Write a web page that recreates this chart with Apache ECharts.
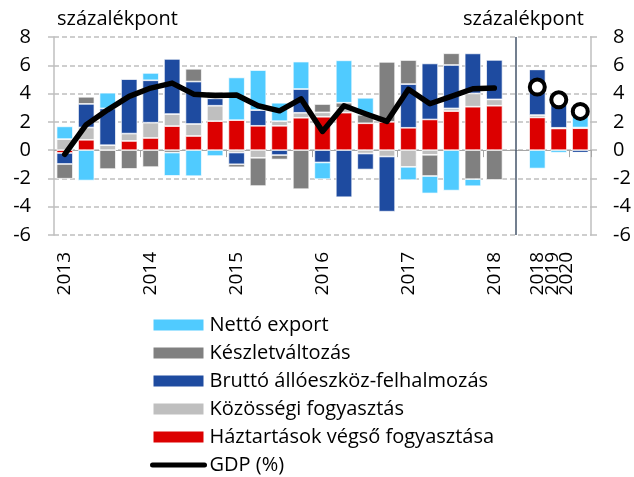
<!DOCTYPE html>
<html>
<head>
<meta charset="utf-8">
<script src="https://cdn.jsdelivr.net/npm/echarts@6/dist/echarts.min.js"></script>
<style>
html,body{margin:0;padding:0;background:#fff;}
#chart{width:634px;height:477px;}
</style>
</head>
<body>
<div id="chart"></div>
<script>
// Categories: 2013Q1..2018Q1 quarterly, a separator slot, then annual 2018-2020
const categories = ['2013Q1','2013Q2','2013Q3','2013Q4','2014Q1','2014Q2','2014Q3','2014Q4',
  '2015Q1','2015Q2','2015Q3','2015Q4','2016Q1','2016Q2','2016Q3','2016Q4',
  '2017Q1','2017Q2','2017Q3','2017Q4','2018Q1','sep','2018','2019','2020'];
const tickLabels = ['2013','','','','2014','','','','2015','','','','2016','','','',
  '2017','','','','2018','','2018','2019','2020'];

const haztartasok = [-0.2,0.73,0.0,0.65,0.86,1.7,1.0,2.05,2.12,1.72,1.72,2.29,2.36,2.65,1.9,2.0,1.58,2.17,2.76,3.07,3.14,null,2.31,1.53,1.55];
const kozossegi   = [0.78,0.87,0.35,0.52,1.08,0.85,0.85,1.09,-0.17,-0.54,0.33,0.35,0.31,0.35,-0.24,-0.45,-1.18,-0.33,0.19,0.94,0.45,null,0.17,0.05,0.05];
const brutto      = [-0.78,1.67,2.6,3.85,3.0,3.9,3.0,0.52,-0.83,1.11,-0.35,1.68,-0.87,-3.33,-1.13,-3.9,3.09,3.96,3.07,2.83,2.79,null,3.23,2.2,-0.18];
const keszlet     = [-1.04,0.5,-1.34,-1.34,-1.2,-0.17,0.9,0.47,-0.21,-2.0,-0.31,-2.76,0.59,0.35,0.6,4.25,1.7,-1.5,0.83,-2.05,-2.12,null,0,0,0];
const nettoExport = [0.9,-2.15,1.11,0.0,0.52,-1.65,-1.84,-0.42,3.02,2.83,1.3,1.94,-1.18,3.0,1.2,0,-0.94,-1.23,-2.86,-0.5,0,null,-1.3,-0.18,1.3];
const gdpQuarterly = [-0.3,1.8,2.85,3.8,4.39,4.74,3.96,3.87,3.9,3.14,2.78,3.63,1.32,3.14,2.57,2.03,4.3,3.28,3.8,4.34,4.39,null,null,null,null];
const gdpAnnual    = [null,null,null,null,null,null,null,null,null,null,null,null,null,null,null,null,null,null,null,null,null,null,4.46,3.56,2.74];
const yTicks = {min:-6, max:8, interval:2};

const FONT = 'Open Sans';
const C = {lightblue:'#50CBFF', gray:'#808080', darkblue:'#1E4BA0', lightgray:'#BFBFBF', red:'#DC0000'};

function bar(name, data, color){
  return {name, type:'bar', stack:'total', data, xAxisIndex:0, yAxisIndex:0,
    barWidth:'76%', itemStyle:{color, borderColor:'#ffffff', borderWidth:0.7},
    emphasis:{disabled:true}, animation:false};
}

const chart = echarts.init(document.getElementById('chart'), null, {renderer:'canvas'});
const sHaz = bar('Háztartások végső fogyasztása', haztartasok, C.red);
sHaz.markLine = {symbol:'none', silent:true, animation:false, label:{show:false},
  lineStyle:{color:'#44546A', width:1.5, type:'solid'}, data:[{xAxis:'sep'}]};

const option = {
  backgroundColor:'#ffffff',
  animation:false,
  textStyle:{fontFamily:FONT},
  title:[
    {text:'százalékpont', left:52, top:4, textStyle:{fontFamily:FONT, fontSize:20, fontWeight:'normal', color:'#000'}},
    {text:'százalékpont', right:45, top:4, textStyle:{fontFamily:FONT, fontSize:20, fontWeight:'normal', color:'#000'}}
  ],
  grid:{left:54, right:43, top:37, bottom:242, containLabel:false},
  legend:{
    orient:'vertical', left:150, top:315, padding:0, height:170, itemWidth:52, itemHeight:13, itemGap:8,
    textStyle:{fontFamily:FONT, fontSize:20, color:'#000', lineHeight:20},
    data:[
      {name:'Nettó export', icon:'rect'},
      {name:'Készletváltozás', icon:'rect'},
      {name:'Bruttó állóeszköz-felhalmozás', icon:'rect'},
      {name:'Közösségi fogyasztás', icon:'rect'},
      {name:'Háztartások végső fogyasztása', icon:'rect'},
      {name:'GDP (%)', itemStyle:{opacity:0}, lineStyle:{width:5, color:'#000', cap:'round'}}
    ],
    selectedMode:false
  },
  xAxis:[
    {type:'category', data:categories, position:'bottom',
     axisLine:{show:false, onZero:false}, axisTick:{show:false},
     axisLabel:{interval:0, rotate:90, margin:17, color:'#000', fontFamily:FONT, fontSize:19,
       formatter:function(v, i){
         const t = tickLabels[i];
         if (!t) return '';
         if (i === 23) return '{b|' + t + '}';
         if (i === 24) return '{c|' + t + '}';
         return t;
       },
       rich:{
         b:{fontFamily:FONT, fontSize:19, color:'#000', padding:[0,0,13,0]},
         c:{fontFamily:FONT, fontSize:19, color:'#000', padding:[0,0,28,0]}
       }},
     splitLine:{show:false}},
    {type:'category', data:categories, position:'bottom',
     axisLine:{show:true, onZero:true, lineStyle:{color:'#A6A6A6', width:1}},
     axisTick:{show:true, length:7, lineStyle:{color:'#A6A6A6'},
       interval:function(i){ return i===4||i===8||i===12||i===16||i===20||i===24; }},
     axisLabel:{show:false}, splitLine:{show:false}}
  ],
  yAxis:[
    {type:'value', position:'left', min:yTicks.min, max:yTicks.max, interval:yTicks.interval,
     axisLine:{show:true, lineStyle:{color:'#BFBFBF', width:1.5}},
     axisTick:{show:true, length:6, lineStyle:{color:'#BFBFBF', width:1.5}},
     axisLabel:{margin:23, color:'#000', fontFamily:FONT, fontSize:20},
     splitLine:{show:true, lineStyle:{color:'#BFBFBF', width:1.5, type:[5,3]}}},
    {type:'value', position:'right', min:yTicks.min, max:yTicks.max, interval:yTicks.interval,
     axisLine:{show:true, lineStyle:{color:'#BFBFBF', width:1.5}},
     axisTick:{show:true, length:6, lineStyle:{color:'#BFBFBF', width:1.5}},
     axisLabel:{margin:22, color:'#000', fontFamily:FONT, fontSize:20},
     splitLine:{show:false}}
  ],
  series:[
    sHaz,
    bar('Közösségi fogyasztás', kozossegi, C.lightgray),
    bar('Bruttó állóeszköz-felhalmozás', brutto, C.darkblue),
    bar('Készletváltozás', keszlet, C.gray),
    bar('Nettó export', nettoExport, C.lightblue),
    {name:'GDP (%)', type:'line', data:gdpQuarterly, xAxisIndex:0, yAxisIndex:0,
     symbol:'none', showSymbol:false, connectNulls:false, z:5,
     lineStyle:{color:'#000', width:5.5, cap:'round', join:'round'},
     itemStyle:{color:'#000'}, emphasis:{disabled:true}},
    {name:'GDP előrejelzés', type:'line', data:gdpAnnual, xAxisIndex:0, yAxisIndex:0,
     symbol:'circle', symbolSize:15, showSymbol:true, z:6,
     lineStyle:{width:0, opacity:0},
     itemStyle:{color:'#fff', borderColor:'#000', borderWidth:4}, emphasis:{disabled:true}}
  ]
};
chart.setOption(option);
</script>
</body>
</html>
